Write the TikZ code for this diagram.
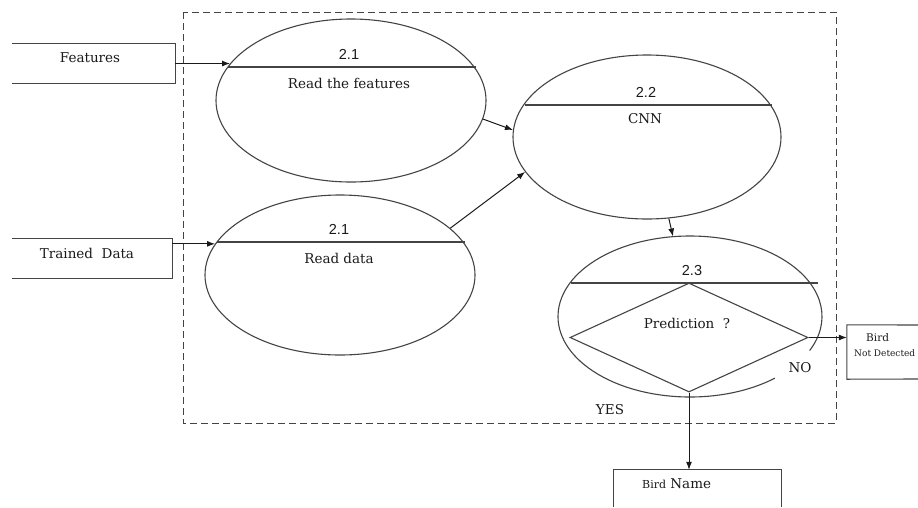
\documentclass[tikz,border=0pt]{standalone}
\usepackage{fontspec}
\setmainfont{DejaVu Serif}
\newfontfamily\numfont{Liberation Sans}
\usetikzlibrary{shapes.geometric,arrows.meta}
\definecolor{ln}{HTML}{444444}
\definecolor{tx}{HTML}{1a1a1a}
\tikzset{
  proc/.style={ellipse,draw=ln,line width=1.1pt,inner sep=0pt},
  procnd/.style={ellipse,inner sep=0pt},
  chord/.style={draw=ln,line width=1.1pt},
  boxside/.style={draw=ln,line width=1.1pt},
  boxnode/.style={rectangle,inner sep=0pt},
  lbl/.style={text=tx,font=\fontsize{13.5}{15}\selectfont,inner sep=0pt},
  num/.style={text=tx,font=\numfont\fontsize{14.5}{16}\selectfont,inner sep=0pt},
  small/.style={text=tx,font=\fontsize{9}{11}\selectfont,inner sep=0pt},
  arr/.style={draw=tx,line width=1pt,-{Latex[length=8pt,width=6pt]}},
  frame/.style={draw=ln,line width=1pt,dash pattern=on 7pt off 4pt}
}
\begin{document}
\begin{tikzpicture}[x=1pt,y=-1pt]
\useasboundingbox[fill=white] (0,0) rectangle (918,507);
% frame
\draw[frame] (183,12) rectangle (836,423);
% input boxes
\node[boxnode,minimum width=163pt,minimum height=39pt] (feat) at (93.5,63.5) {};
\draw[boxside] (feat.north west) -- (feat.north east) -- (feat.south east) -- (feat.south west);
\node[lbl] (featT) at (90,58) {Features};
\node[boxnode,minimum width=160pt,minimum height=39pt] (td) at (92,258.5) {};
\draw[boxside] (td.north west) -- (td.north east) -- (td.south east) -- (td.south west);
\node[lbl] (tdT) at (87,253) {Trained\ \ Data};
% process 2.1 (features)
\node[proc,minimum width=270pt,minimum height=163pt] (e1) at (351,100.5) {};
\draw[chord] (228,67) -- (476,67);
\node[num] (e1n) at (349,54) {2.1};
\node[lbl] (e1t) at (349,83) {Read the features};
% process 2.1 (data)
\node[proc,minimum width=270pt,minimum height=160pt] (e2) at (340,275) {};
\draw[chord] (217,242) -- (465,242);
\node[num] (e2n) at (339,229) {2.1};
\node[lbl] (e2t) at (339,258) {Read data};
% process 2.2
\node[proc,minimum width=268pt,minimum height=164pt] (e3) at (647,137) {};
\draw[chord] (525,105) -- (772,105);
\node[num] (e3n) at (646,92) {2.2};
\node[lbl] (e3t) at (645,119) {CNN};
% process 2.3
\node[procnd,minimum width=264pt,minimum height=161pt] (e4) at (690,316.5) {};
\draw[ln,line width=1.1pt] (e4.center) ++(50:132 and 80.5) arc[start angle=50,end angle=385,x radius=132,y radius=80.5];
\draw[chord] (571,283) -- (818,283);
\node[num] (e4n) at (692,271) {2.3};
\node[diamond,draw=ln,line width=1.1pt,minimum width=238pt,minimum height=109pt,inner sep=0pt] (dia) at (689,337.5) {};
\node[lbl] (diaT) at (687,323) {Prediction\ \ ?};
\node[lbl] (no) at (800,368) {NO};
\node[lbl] (yes) at (610,410) {YES};
% output boxes
\node[boxnode,minimum width=80pt,minimum height=54pt] (bnd) at (887,352) {};
\draw[boxside] (918,325) -- (bnd.north west) -- (bnd.south west) -- (918,379);
\node[text=tx,font=\fontsize{10.5}{12}\selectfont,inner sep=0pt,anchor=west] (bndA) at (866,338) {Bird};
\node[small,anchor=west] (bndB) at (854,353) {Not Detected};
\node[boxnode,minimum width=167pt,minimum height=40pt] (bn) at (697.5,490) {};
\draw[boxside] (bn.south west |- 0,507) -- (bn.north west) -- (bn.north east) -- (bn.south east |- 0,507);
\node[lbl,anchor=west] (bnT) at (642,484) {{\fontsize{11}{12}\selectfont Bird} Name};
% connectors
\draw[arr] (feat.east |- e1.163.7) -- (e1.163.7);
\draw[arr] (td.east |- e2.166.7) -- (e2.166.7);
\draw[arr] (e1.-8.8) -- (e3.177.5);
\draw[arr] (e2.23) -- (e3.-164);
\draw[arr] (e3.-75.8) -- (e4.102.3);
\draw[arr] (dia.east) -- (bnd.west |- dia.east);
\draw[arr] (dia.south) -- (dia.south |- bn.north);
\end{tikzpicture}
\end{document}
